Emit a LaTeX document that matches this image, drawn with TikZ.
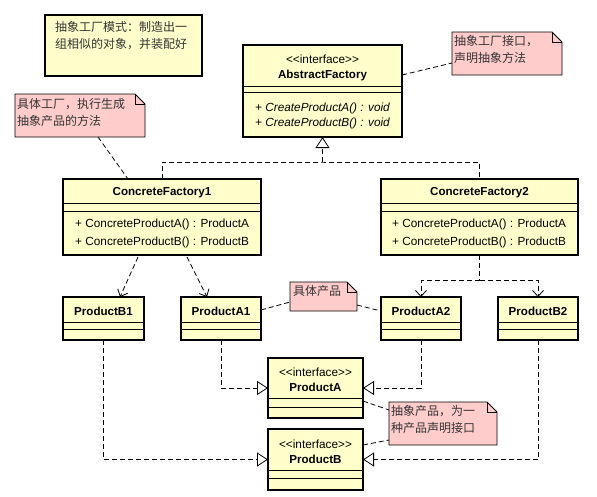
\documentclass[tikz,border=0pt]{standalone}
\usepackage{fontspec}
\setmainfont{Liberation Sans}
\newfontfamily\cjk{Noto Sans CJK SC}
\usepackage{tikz}
\usetikzlibrary{positioning, arrows.meta, calc}

\definecolor{clsfill}{HTML}{FFFFCC}
\definecolor{notefill}{HTML}{FFCCCC}
\definecolor{memotext}{HTML}{333333}

\begin{document}
\begin{tikzpicture}[
    x=1pt, y=-1pt,
    cls/.style={draw, line width=1.8pt, fill=clsfill, anchor=north west, inner sep=0pt, outer sep=0pt},
    part/.style={line width=0.9pt},
    cname/.style={font=\fontsize{11.6}{13}\selectfont\bfseries, inner sep=0pt},
    stereo/.style={font=\fontsize{11.8}{13}\selectfont, inner sep=0pt},
    op/.style={font=\fontsize{11.8}{13}\selectfont, anchor=west, inner sep=0pt},
    spot/.style={anchor=north west, inner sep=0pt, outer sep=0pt},
    notebox/.style={draw, line width=0.8pt, fill=notefill},
    memo/.style={font=\cjk\fontsize{12}{14}\selectfont, text=memotext, anchor=west, inner sep=0pt},
    link/.style={dash pattern=on 5pt off 3pt, line width=0.8pt},
    dep/.style={link, -{Straight Barb[length=6pt, width=11pt]}},
    realize/.style={link, -{Triangle[open, length=11pt, width=14pt]}}
]
    \useasboundingbox (0,0) rectangle (597,496);

    % === Title note ===
    \node[spot, draw, line width=1.8pt, fill=clsfill, minimum width=157, minimum height=61] (title) at (45,15) {};
    \node[memo] (title-1) at (55,27) {抽象工厂模式：制造出一};
    \node[memo] (title-2) at (55,44) {组相似的对象，并装配好};

    % === AbstractFactory ===
    \node[cls, minimum width=159, minimum height=92] (af) at (243,45) {};
    \draw[part] (af.west |- 0,86) -- (af.east |- 0,86);
    \draw[part] (af.west |- 0,92) -- (af.east |- 0,92);
    \node[stereo] (af-s) at (af.north |- 0,59) {<{}<interface>{}>};
    \node[cname] (af-n) at (af.north |- 0,75) {AbstractFactory};
    \node[op, font=\fontsize{11.8}{13}\selectfont\itshape] (af-m1) at (255,108) {+ CreateProductA() : void};
    \node[op, font=\fontsize{11.8}{13}\selectfont\itshape] (af-m2) at (255,123) {+ CreateProductB() : void};

    % === Concrete factories ===
    \node[cls, minimum width=198, minimum height=76] (cf1) at (63,179) {};
    \draw[part] (cf1.west |- 0,203) -- (cf1.east |- 0,203);
    \draw[part] (cf1.west |- 0,211) -- (cf1.east |- 0,211);
    \node[cname] (cf1-n) at (cf1.north |- 0,193) {ConcreteFactory1};
    \node[op] (cf1-m1) at (75,224) {+ ConcreteProductA() : ProductA};
    \node[op] (cf1-m2) at (75,242) {+ ConcreteProductB() : ProductB};

    \node[cls, minimum width=197, minimum height=76] (cf2) at (381,179) {};
    \draw[part] (cf2.west |- 0,203) -- (cf2.east |- 0,203);
    \draw[part] (cf2.west |- 0,211) -- (cf2.east |- 0,211);
    \node[cname] (cf2-n) at (cf2.north |- 0,193) {ConcreteFactory2};
    \node[op] (cf2-m1) at (392,224) {+ ConcreteProductA() : ProductA};
    \node[op] (cf2-m2) at (392,242) {+ ConcreteProductB() : ProductB};

    % === Concrete products ===
    \node[cls, minimum width=81, minimum height=43] (pb1) at (63,297) {};
    \node[cls, minimum width=80, minimum height=43] (pa1) at (181,297) {};
    \node[cls, minimum width=80, minimum height=43] (pa2) at (381,297) {};
    \node[cls, minimum width=80, minimum height=43] (pb2) at (498,297) {};
    \foreach \p in {pb1, pa1, pa2, pb2} {
        \draw[part] (\p.west |- 0,322) -- (\p.east |- 0,322);
        \draw[part] (\p.west |- 0,329) -- (\p.east |- 0,329);
    }
    \node[cname] (pb1-n) at (pb1.north |- 0,311) {ProductB1};
    \node[cname] (pa1-n) at (pa1.north |- 0,311) {ProductA1};
    \node[cname] (pa2-n) at (pa2.north |- 0,311) {ProductA2};
    \node[cname] (pb2-n) at (pb2.north |- 0,311) {ProductB2};

    % === Abstract products ===
    \node[cls, minimum width=95, minimum height=60] (pa) at (268,358) {};
    \draw[part] (pa.west |- 0,398) -- (pa.east |- 0,398);
    \draw[part] (pa.west |- 0,407) -- (pa.east |- 0,407);
    \node[stereo] (pa-s) at (pa.north |- 0,372) {<{}<interface>{}>};
    \node[cname] (pa-n) at (pa.north |- 0,387) {ProductA};

    \node[cls, minimum width=95, minimum height=61] (pb) at (268,429) {};
    \draw[part] (pb.west |- 0,470) -- (pb.east |- 0,470);
    \draw[part] (pb.west |- 0,478) -- (pb.east |- 0,478);
    \node[stereo] (pb-s) at (pb.north |- 0,444) {<{}<interface>{}>};
    \node[cname] (pb-n) at (pb.north |- 0,459) {ProductB};

    % === Notes ===
    \node[spot, minimum width=130, minimum height=43] (ncf) at (15,94) {};
    \draw[notebox] (ncf.north west) -- ($(ncf.north east)+(-10,0)$) -- ($(ncf.north east)+(0,10)$) -- (ncf.south east) -- (ncf.south west) -- cycle;
    \draw[notebox, fill=none] ($(ncf.north east)+(-10,0)$) |- ($(ncf.north east)+(0,10)$);
    \node[memo] (ncf-1) at (17,104) {具体工厂，执行生成};
    \node[memo] (ncf-2) at (17,121) {抽象产品的方法};

    \node[spot, minimum width=110, minimum height=43] (naf) at (452,32) {};
    \draw[notebox] (naf.north west) -- ($(naf.north east)+(-10,0)$) -- ($(naf.north east)+(0,10)$) -- (naf.south east) -- (naf.south west) -- cycle;
    \draw[notebox, fill=none] ($(naf.north east)+(-10,0)$) |- ($(naf.north east)+(0,10)$);
    \node[memo] (naf-1) at (454,41) {抽象工厂接口，};
    \node[memo] (naf-2) at (454,58) {声明抽象方法};

    \node[spot, minimum width=67, minimum height=29] (nprod) at (290,282) {};
    \draw[notebox] (nprod.north west) -- ($(nprod.north east)+(-10,0)$) -- ($(nprod.north east)+(0,10)$) -- (nprod.south east) -- (nprod.south west) -- cycle;
    \draw[notebox, fill=none] ($(nprod.north east)+(-10,0)$) |- ($(nprod.north east)+(0,10)$);
    \node[memo] (nprod-1) at (293,291) {具体产品};

    \node[spot, minimum width=108, minimum height=43] (nabs) at (389,402) {};
    \draw[notebox] (nabs.north west) -- ($(nabs.north east)+(-10,0)$) -- ($(nabs.north east)+(0,10)$) -- (nabs.south east) -- (nabs.south west) -- cycle;
    \draw[notebox, fill=none] ($(nabs.north east)+(-10,0)$) |- ($(nabs.north east)+(0,10)$);
    \node[memo] (nabs-1) at (391,411) {抽象产品，为一};
    \node[memo] (nabs-2) at (391,428) {种产品声明接口};

    % === Note links ===
    \draw[link] ($(ncf.south west)+(83,0)$) -- ($(cf1.north west)+(65,0)$);
    \draw[link] ($(af.north east)+(0,30)$) -- ($(naf.south west)+(0,-12)$);
    \draw[link] ($(pa1.north east)+(0,13)$) -- ($(nprod.south west)+(0,-9)$);
    \draw[link] ($(nprod.south east)+(0,-6)$) -- ($(pa2.north west)+(0,14)$);
    \draw[link] ($(pa.south east)+(0,-17)$) -- ($(nabs.north west)+(0,8)$);
    \draw[link] ($(pb.north east)+(0,16)$) -- ($(nabs.south west)+(0,-5)$);

    % === Generalization ===
    \coordinate (join) at ($(af.south)+(0,25)$);
    \draw[link] (cf1.north) |- (join) -| (cf2.north);
    \draw[realize] (join) -- (af.south);

    % === Dependencies ===
    \draw[dep] ($(cf1.south west)+(75,2)$) -- ($(pb1.north west)+(57,0)$);
    \draw[dep] ($(cf1.south west)+(124,2)$) -- ($(pa1.north west)+(26,0)$);
    \coordinate (fork) at ($(cf2.south)+(0,25)$);
    \draw[link] (cf2.south) -- (fork);
    \draw[dep] (fork) -| (pa2.north);
    \draw[dep] (fork) -| (pb2.north);

    % === Realizations ===
    \draw[realize] (pa1.south) |- (pa.west);
    \draw[realize] (pa2.south) |- (pa.east);
    \draw[realize] (pb1.south) |- (pb.west);
    \draw[realize] (pb2.south) |- (pb.east);
\end{tikzpicture}
\end{document}
